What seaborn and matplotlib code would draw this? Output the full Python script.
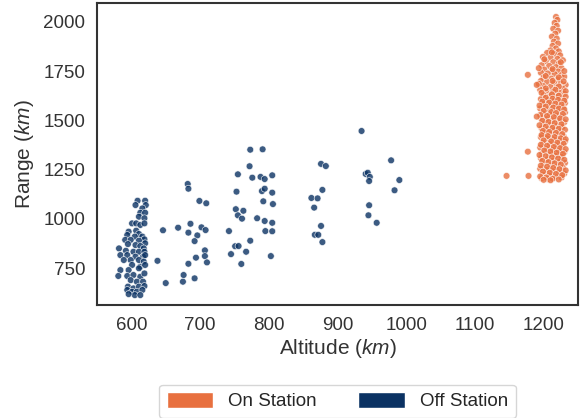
import numpy as np
import pandas as pd
import seaborn as sns
import matplotlib.pyplot as plt
from matplotlib.patches import Patch

# Off station points (altitude km, range km)
off_alt = [609, 620, 606, 621, 616, 613, 620, 611, 619, 601, 607, 613, 619, 596, 607,
           611, 594, 605, 616, 619, 591, 599, 611, 620, 595, 606, 613, 618, 582, 592,
           603, 611, 619, 584, 594, 606, 617, 620, 589, 599, 611, 618, 601, 613, 620,
           584, 596, 611, 581, 594, 603, 613, 619, 599, 608, 617, 595, 603, 611, 619,
           594, 601, 608, 616, 605, 613, 596,
           682, 683, 699, 709, 646, 668, 686, 683, 702, 708, 696, 692, 707, 707, 710,
           694, 683, 638, 676, 675, 692, 650,
           773, 791, 772, 755, 776, 788, 794, 805, 753, 790, 794, 805, 792, 806, 752,
           763, 755, 761, 783, 794, 805, 742, 795, 805, 773, 751, 756, 745, 767, 803, 760,
           935, 876, 883, 978, 941, 944, 947, 946, 990, 983, 878, 862, 871, 866, 946,
           945, 957, 876, 867, 872, 878]
off_range = [1092, 1092, 1070, 1070, 1053, 1031, 1031, 1011, 1003, 977, 977, 969, 977, 935, 940,
             923, 918, 910, 910, 896, 893, 893, 889, 876, 872, 867, 862, 850, 850, 838,
             833, 833, 833, 816, 816, 808, 808, 816, 791, 791, 791, 783, 766, 757, 766,
             740, 740, 749, 710, 710, 715, 706, 723, 689, 681, 681, 656, 647, 656, 659,
             639, 630, 630, 639, 613, 613, 618,
             1177, 1153, 1091, 1079, 942, 955, 975, 930, 957, 943, 916, 887, 840, 811, 779,
             803, 772, 787, 715, 681, 698, 674,
             1351, 1353, 1267, 1226, 1209, 1213, 1202, 1221, 1138, 1141, 1153, 1133, 1089, 1075, 1049,
             1041, 1018, 1001, 1003, 989, 980, 938, 938, 937, 889, 861, 862, 821, 833, 811, 771,
             1446, 1279, 1268, 1297, 1228, 1234, 1213, 1192, 1197, 1145, 1147, 1106, 1104, 1057, 1069,
             1018, 980, 964, 919, 919, 882]

# On station points
on_alt = [1218, 1220, 1216, 1219, 1214, 1221, 1217, 1212, 1219, 1215, 1221, 1213, 1218, 1210, 1222,
          1205, 1215, 1224, 1199, 1210, 1220, 1228, 1203, 1214, 1222, 1197, 1208, 1218, 1226, 1201,
          1212, 1221, 1196, 1206, 1216, 1226, 1230, 1200, 1211, 1220, 1196, 1205, 1215, 1225, 1232,
          1199, 1210, 1219, 1228, 1195, 1204, 1214, 1223, 1230, 1200, 1209, 1218, 1227, 1196, 1206,
          1215, 1224, 1231, 1200, 1210, 1220, 1228, 1195, 1205, 1214, 1223, 1231, 1199, 1209, 1218,
          1226, 1196, 1204, 1213, 1222, 1230, 1200, 1210, 1219, 1227, 1197, 1206, 1215, 1224, 1201,
          1211, 1220, 1229, 1196, 1205, 1214, 1223, 1231, 1199, 1209, 1218, 1227, 1195, 1204, 1213,
          1222, 1230, 1198, 1208, 1217, 1226, 1196, 1205, 1214, 1223, 1231, 1200, 1210, 1219, 1228,
          1195, 1204, 1213, 1222, 1230, 1199, 1208, 1217, 1226, 1197, 1206, 1215,
          1212, 1201, 1225, 1193, 1213, 1230, 1203, 1222, 1213, 1229, 1193, 1222, 1203, 1217, 1232,
          1197, 1212, 1222, 1232, 1203, 1213, 1221, 1230, 1198, 1208, 1217, 1226, 1194, 1203, 1214,
          1222, 1230, 1200, 1211, 1218, 1228, 1195, 1205, 1215, 1224, 1232, 1198, 1207, 1216, 1226,
          1194, 1203, 1213, 1222, 1231, 1199, 1208, 1218, 1227, 1197, 1206, 1216, 1225, 1232, 1200,
          1211, 1220, 1229, 1196, 1205, 1215, 1224, 1232, 1201, 1210, 1219, 1228, 1194, 1203, 1212,
          1221, 1230, 1198, 1207, 1216, 1225, 1196, 1205, 1214, 1223, 1232, 1199, 1209, 1218, 1227,
          1195, 1204, 1213, 1222, 1200, 1210,
          1177, 1190, 1190, 1177, 1146, 1178]
on_range = [2025, 2010, 1995, 1980, 1965, 1955, 1940, 1925, 1915, 1900, 1890, 1878, 1865, 1855, 1850,
            1842, 1838, 1830, 1822, 1818, 1812, 1805, 1800, 1795, 1788, 1780, 1776, 1770, 1765, 1758,
            1752, 1748, 1742, 1738, 1735, 1730, 1722, 1718, 1712, 1708, 1700, 1695, 1690, 1688, 1680,
            1675, 1670, 1665, 1660, 1655, 1650, 1645, 1640, 1635, 1628, 1622, 1618, 1612, 1608, 1603,
            1598, 1594, 1588, 1583, 1578, 1572, 1566, 1560, 1556, 1550, 1545, 1540, 1535, 1530, 1524,
            1519, 1512, 1506, 1500, 1496, 1490, 1484, 1478, 1472, 1466, 1460, 1455, 1450, 1444, 1438,
            1432, 1426, 1420, 1415, 1410, 1404, 1398, 1392, 1386, 1380, 1374, 1368, 1362, 1356, 1350,
            1344, 1338, 1332, 1326, 1320, 1314, 1308, 1302, 1296, 1290, 1284, 1278, 1272, 1266, 1260,
            1254, 1248, 1242, 1236, 1230, 1225, 1220, 1215, 1210, 1206, 1202, 1208,
            1845, 1810, 1795, 1765, 1760, 1750, 1725, 1718, 1700, 1698, 1685, 1672, 1662, 1655, 1648,
            1640, 1632, 1625, 1620, 1615, 1610, 1604, 1600, 1595, 1590, 1585, 1580, 1575, 1570, 1565,
            1560, 1555, 1548, 1542, 1537, 1532, 1527, 1522, 1516, 1510, 1505, 1498, 1492, 1486, 1480,
            1475, 1468, 1462, 1457, 1452, 1446, 1441, 1436, 1430, 1425, 1420, 1415, 1409, 1404, 1398,
            1393, 1387, 1381, 1376, 1371, 1365, 1359, 1354, 1347, 1342, 1336, 1330, 1324, 1318, 1312,
            1306, 1300, 1294, 1288, 1282, 1276, 1270, 1264, 1258, 1252, 1246, 1240, 1234, 1228, 1222,
            1215, 1210, 1204, 1200, 1198, 1196,
            1731, 1680, 1519, 1341, 1218, 1218]

labels = ["On Station", "Off Station"]
colors = {"On Station": "#E8703F", "Off Station": "#0B3263"}

df = pd.concat([
    pd.DataFrame({"alt": on_alt, "range": on_range, "status": "On Station"}),
    pd.DataFrame({"alt": off_alt, "range": off_range, "status": "Off Station"}),
])

sns.set_style("white")
plt.rcParams["font.family"] = ["Liberation Sans", "DejaVu Sans"]
plt.rcParams["mathtext.fontset"] = "custom"
plt.rcParams["mathtext.it"] = "Liberation Sans:italic"
plt.rcParams["mathtext.rm"] = "Liberation Sans"

fig, ax = plt.subplots(figsize=(5.88, 4.18), dpi=100)
fig.subplots_adjust(left=0.165, right=0.983, top=0.993, bottom=0.27)

sns.scatterplot(data=df, x="alt", y="range", hue="status", palette=colors,
                s=24, alpha=0.8, edgecolor="white", linewidth=0.5, legend=False, ax=ax)

ax.set_xlim(550, 1250)
ax.set_ylim(562, 2096)
ax.set_xticks([600, 700, 800, 900, 1000, 1100, 1200])
ax.set_yticks([750, 1000, 1250, 1500, 1750, 2000])
ax.tick_params(labelsize=13.5, colors="#333333", pad=5)
ax.set_xlabel("Altitude ($km$)", fontsize=15, color="#333333", labelpad=2)
ax.set_ylabel("Range ($km$)", fontsize=15, color="#333333", labelpad=5)
for sp in ax.spines.values():
    sp.set_color("#333333")
    sp.set_linewidth(1.5)

handles = [Patch(facecolor=colors[l], label=l) for l in labels]
fig.legend(handles=handles, loc="lower center", bbox_to_anchor=(0.574, -0.022), ncol=2,
           fontsize=13.5, handlelength=2.5, handleheight=0.9, columnspacing=2.2,
           frameon=True, fancybox=True)

fig.savefig("out.png", dpi=100)
